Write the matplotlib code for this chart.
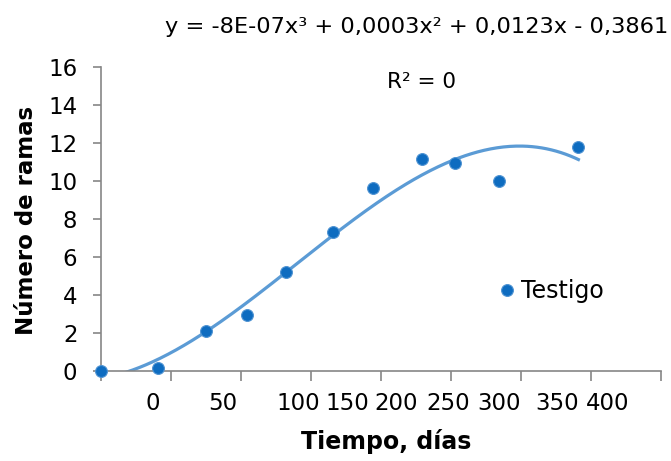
import numpy as np
import matplotlib
matplotlib.use('Agg')
import matplotlib.pyplot as plt

plt.rcParams['font.family'] = ['DejaVu Sans']

# Data
dias = [0, 41, 75, 104, 132, 166, 194, 229, 253, 284, 341]
ramas = [0.0, 0.15, 2.12, 2.95, 5.2, 7.3, 9.65, 11.14, 10.93, 10.02, 11.79]

# tick labels as printed (their positions are offset from the tick marks)
label_pos = [37, 87, 141, 176, 211, 248, 284, 326, 362]
label_txt = ['0', '50', '100', '150', '200', '250', '300', '350', '400']

ecuacion = 'y = -8E-07x³ + 0,0003x² + 0,0123x - 0,3861'
r2_txt = 'R² = 0'

fig = plt.figure(figsize=(6.71, 4.61), dpi=100)
ax = fig.add_axes([101/671, 1 - 371/461, 560/671, 304/461])

# cubic trendline
coef = np.polyfit(dias, ramas, 3)
xs = np.linspace(min(dias), max(dias), 300)
ax.plot(xs, np.polyval(coef, xs), color='#5B9BD5', lw=2.3, zorder=2)

ax.plot(dias, ramas, 'o', color='#0E6CC0', markeredgecolor='#4F93D2',
        markeredgewidth=0.8, markersize=8.5, clip_on=False, zorder=3,
        label='Testigo')

ax.set_xlim(0, 400)
ax.set_ylim(0, 16)
ax.set_yticks(range(0, 17, 2))

ax.set_xticks(label_pos)
ax.set_xticklabels(label_txt)
ax.set_xticks(range(0, 401, 50), minor=True)
ax.tick_params(axis='x', which='major', length=0, pad=15, labelsize=16.5)
ax.tick_params(axis='x', which='minor', length=7, color='#868686', width=1.2)
ax.tick_params(axis='y', length=6, color='#868686', width=1.2, labelsize=16.5, pad=11)

for s in ['top', 'right']:
    ax.spines[s].set_visible(False)
for s in ['left', 'bottom']:
    ax.spines[s].set_color('#868686')
    ax.spines[s].set_linewidth(1.2)

fig.text(27/671, 1 - 220/461, 'Número de ramas', fontsize=16.5, fontweight='bold',
         rotation=90, ha='center', va='center')
fig.text(386/671, 1 - 441/461, 'Tiempo, días', fontsize=17, fontweight='bold',
         ha='center', va='center')

fig.text(668/671, 1 - 27/461, ecuacion, fontsize=16.2, ha='right', va='center')
fig.text(421/671, 1 - 82/461, r2_txt, fontsize=15.5, ha='center', va='center')

ax.legend(loc='center left', bbox_to_anchor=(382/560, (371 - 291)/304),
          frameon=False, fontsize=17, handletextpad=0.0, markerscale=1.0,
          borderaxespad=0, handlelength=1.2)

plt.savefig('out.png', dpi=100)
